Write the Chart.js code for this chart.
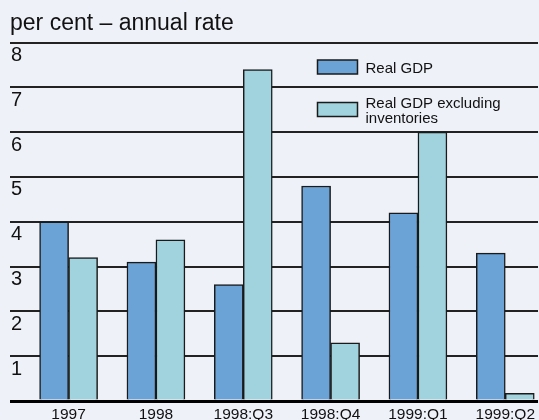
<!DOCTYPE html>
<html>
<head>
<meta charset="utf-8">
<script src="https://cdn.jsdelivr.net/npm/chart.js@4"></script>
<style>
  body { margin: 0; background: #eef1f8; }
  canvas { display: block; }
</style>
</head>
<body>
<canvas id="gdpChart" width="539" height="420"></canvas>
<script>
const categories = ['1997', '1998', '1998:Q3', '1998:Q4', '1999:Q1', '1999:Q2'];
const realGdp = [4.0, 3.1, 2.6, 4.8, 4.2, 3.3];
const realGdpExInventories = [3.2, 3.6, 7.4, 1.3, 6.0, 0.17];
const seriesNames = ['Real GDP', 'Real GDP excluding inventories'];
const yTicks = [0, 1, 2, 3, 4, 5, 6, 7, 8];

const FONT = '"Liberation Sans", Arial, Helvetica, sans-serif';

function toPoints(values) {
    return values.map((v, i) => ({ x: i, y: v }));
}

// paint the pale background behind everything
const background = {
    id: 'background',
    beforeDraw(chart) {
        const ctx = chart.ctx;
        ctx.save();
        ctx.fillStyle = '#eef1f8';
        ctx.fillRect(0, 0, chart.width, chart.height);
        ctx.restore();
    }
};

// legend sits inside the plot, to the right of the tall bar
const boxLegend = {
    id: 'boxLegend',
    afterDatasetsDraw(chart) {
        const ctx = chart.ctx;
        ctx.save();
        ctx.font = '15px ' + FONT;
        ctx.textBaseline = 'alphabetic';
        chart.data.datasets.forEach((ds, i) => {
            const top = 60 + i * 42.5;
            ctx.fillStyle = ds.backgroundColor;
            ctx.fillRect(317.5, top, 40, 14);
            ctx.strokeStyle = '#1a1a1a';
            ctx.lineWidth = 1.5;
            ctx.strokeRect(317.5, top, 40, 14);

            // wrap long names onto two lines
            const lines = [];
            let line = '';
            ds.label.split(' ').forEach(word => {
                const test = line ? line + ' ' + word : word;
                if (line && ctx.measureText(test).width > 150) {
                    lines.push(line);
                    line = word;
                } else {
                    line = test;
                }
            });
            lines.push(line);

            ctx.fillStyle = '#111';
            const mid = top + 7;
            lines.forEach((txt, j) => {
                ctx.fillText(txt, 365.5, mid + 6.3 + (j - (lines.length - 1) / 2) * 14.7);
            });
        });
        ctx.restore();
    }
};

const ctx = document.getElementById('gdpChart').getContext('2d');

new Chart(ctx, {
    type: 'bar',
    data: {
        datasets: [{
            label: seriesNames[0],
            data: toPoints(realGdp),
            backgroundColor: '#6ca3d7',
            borderColor: '#1a1a1a',
            borderWidth: 1.5,
            borderSkipped: 'bottom'
        }, {
            label: seriesNames[1],
            data: toPoints(realGdpExInventories),
            backgroundColor: '#a0d3dd',
            borderColor: '#1a1a1a',
            borderWidth: 1.5,
            borderSkipped: 'bottom'
        }]
    },
    options: {
        responsive: false,
        animation: false,
        barThickness: 29,
        layout: {
            padding: { left: 10, right: 0, top: 0, bottom: 0 }
        },
        scales: {
            x: {
                type: 'linear',
                offset: false,
                min: -0.671,
                max: 5.375,
                grid: { display: false, drawTicks: false },
                border: { display: false },
                afterBuildTicks: axis => {
                    axis.ticks = categories.map((_, i) => ({ value: i }));
                },
                afterFit: axis => { axis.height = 19; },
                ticks: {
                    autoSkip: false,
                    maxRotation: 0,
                    padding: 4,
                    color: '#111',
                    font: { family: FONT, size: 15.5 },
                    callback: value => categories[value]
                }
            },
            y: {
                min: yTicks[0],
                max: yTicks[yTicks.length - 1],
                afterBuildTicks: axis => {
                    axis.ticks = yTicks.map(v => ({ value: v }));
                },
                afterFit: axis => { axis.width = 0; },
                border: { display: false },
                grid: {
                    drawTicks: false,
                    color: ctx => ctx.tick.value === 0 ? '#000' : '#222',
                    lineWidth: ctx => ctx.tick.value === 0 ? 3 : 2
                },
                ticks: {
                    mirror: true,
                    padding: 1,
                    labelOffset: 12.8,
                    color: '#111',
                    font: { family: FONT, size: 20 },
                    callback: value => value === 0 ? '' : value
                }
            }
        },
        plugins: {
            legend: { display: false },
            tooltip: { enabled: false },
            title: {
                display: true,
                text: 'per cent – annual rate',
                align: 'start',
                color: '#111',
                font: { family: FONT, size: 23, weight: 'normal' },
                padding: { top: 10, bottom: 5 }
            }
        }
    },
    plugins: [background, boxLegend]
});
</script>
</body>
</html>
